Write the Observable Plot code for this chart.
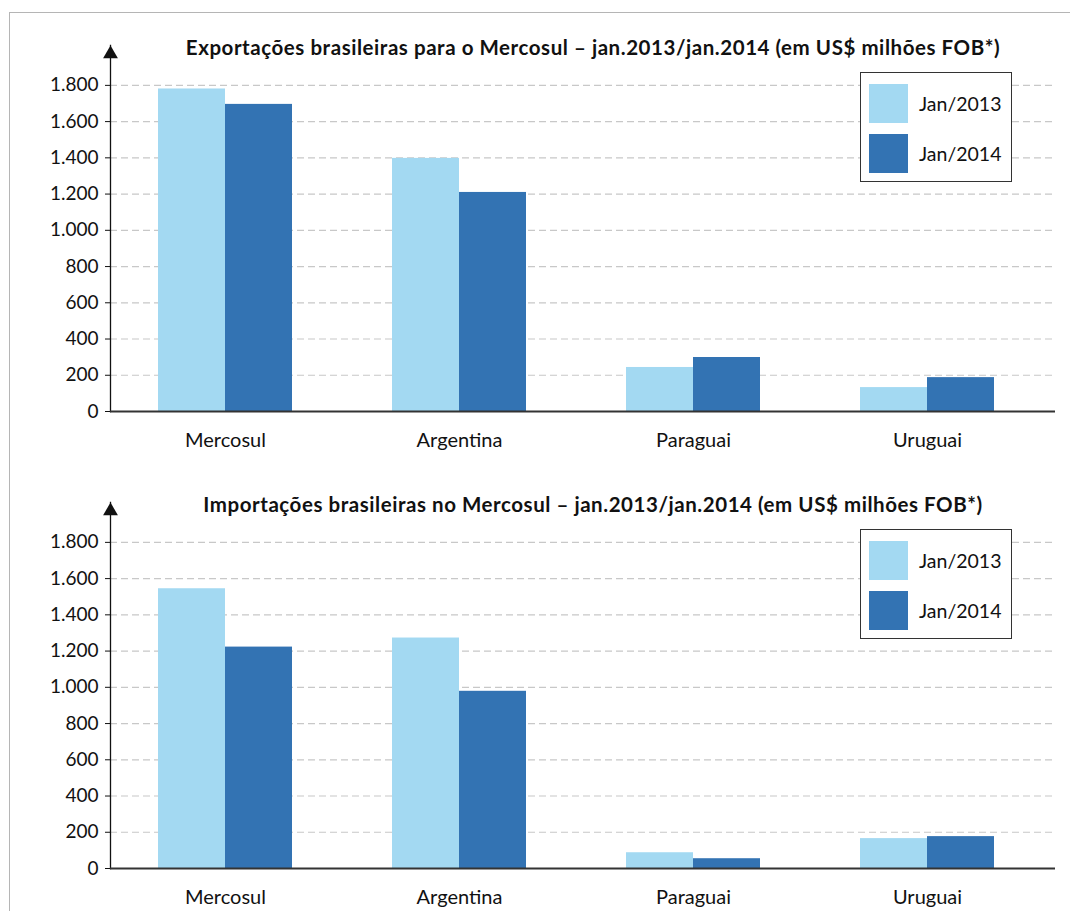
<!DOCTYPE html>
<html>
<head>
<meta charset="utf-8">
<script src="https://cdn.jsdelivr.net/npm/d3@7"></script>
<script src="https://cdn.jsdelivr.net/npm/@observablehq/plot@0.6"></script>
<style>
  body { margin: 0; background: #fff; font-family: Lato, sans-serif; color: #111; }
  #page { position: relative; width: 1070px; height: 911px; overflow: hidden; background: #fff; }
  #border { position: absolute; left: 9px; top: 12px; width: 1200px; height: 1200px; border: 1.5px solid #b5b5b5; box-sizing: border-box; }
  .chart { position: absolute; left: 0; width: 1070px; }
  .title { position: absolute; left: 0; width: 1186px; text-align: center; font-family: Lato, sans-serif; font-weight: bold; font-size: 20.5px; letter-spacing: 0.55px; top: 34px; white-space: nowrap; line-height: 26px; }
  .legend { position: absolute; left: 860px; top: 72px; width: 152px; height: 110px; border: 1.5px solid #333; box-sizing: border-box; background: #fff; }
  .item { position: absolute; left: 8px; height: 39px; display: flex; align-items: center; font-size: 19.5px; }
  .sw { width: 39px; height: 39px; margin-right: 11px; }
</style>
</head>
<body>
<div id="page">
  <div id="border"></div>
  <div id="top" class="chart" style="top:0px"></div>
  <div id="bottom" class="chart" style="top:457px"></div>
</div>
<script>
const categories = ["Mercosul", "Argentina", "Paraguai", "Uruguai"];
const seriesLabels = ["Jan/2013", "Jan/2014"];
const seriesColors = ["#a3d9f2", "#3373b3"];

const export2013 = [1780, 1397, 243, 132];
const export2014 = [1695, 1209, 298, 187];
const import2013 = [1544, 1272, 87, 165];
const import2014 = [1222, 978, 54, 176];

const yTicks = [0, 200, 400, 600, 800, 1000, 1200, 1400, 1600, 1800];
const yMax = 2020;

const titles = [
  "Exportações brasileiras para o Mercosul – jan.2013/jan.2014 (em US$ milhões FOB*)",
  "Importações brasileiras no Mercosul – jan.2013/jan.2014 (em US$ milhões FOB*)"
];

const fmt = d3.formatLocale({decimal: ",", thousands: ".", grouping: [3], currency: ["R$", ""]}).format(",");

function rows(values) {
  return categories.map((c, i) => ({country: c, value: values[i]}));
}

function makeChart(containerId, title, v2013, v2014) {
  const halfBand = 67;
  const chart = Plot.plot({
    width: 1070,
    height: 451,
    marginLeft: 110,
    marginRight: 15,
    marginTop: 45,
    marginBottom: 40,
    style: {fontFamily: "Lato, sans-serif", fontSize: "19px", color: "#111", background: "transparent"},
    x: {type: "band", domain: categories, paddingInner: 0.4274, paddingOuter: 0.2325, align: 0.44},
    y: {domain: [0, yMax]},
    marks: [
      Plot.gridY(yTicks, {stroke: "#c8c8c8", strokeOpacity: 1, strokeDasharray: "7,4", strokeWidth: 1.2}),
      Plot.barY(rows(v2013), {x: "country", y: "value", fill: seriesColors[0], insetRight: halfBand}),
      Plot.barY(rows(v2014), {x: "country", y: "value", fill: seriesColors[1], insetLeft: halfBand}),
      Plot.axisY({ticks: yTicks, tickSize: 5, tickPadding: 7, tickFormat: fmt, label: null, fontSize: 19, stroke: "#111"}),
      Plot.axisX({tickSize: 0, tickPadding: 21, label: null, fontSize: 20}),
      Plot.frame({anchor: "left", stroke: "#111", strokeWidth: 1.3}),
      Plot.ruleY([0], {stroke: "#333", strokeWidth: 1.8}),
      Plot.dot([0], {frameAnchor: "top-left", symbol: "triangle", r: 5.5, fill: "#111", stroke: null, dy: 8.5})
    ]
  });
  const el = document.getElementById(containerId);
  el.appendChild(chart);
  const t = document.createElement("div");
  t.className = "title";
  t.textContent = title;
  el.appendChild(t);
  const lg = document.createElement("div");
  lg.className = "legend";
  seriesLabels.forEach((s, i) => {
    const it = document.createElement("div");
    it.className = "item";
    it.style.top = (11 + i * 50) + "px";
    const sw = document.createElement("div");
    sw.className = "sw";
    sw.style.background = seriesColors[i];
    it.appendChild(sw);
    const tx = document.createElement("span");
    tx.textContent = s;
    it.appendChild(tx);
    lg.appendChild(it);
  });
  el.appendChild(lg);
}

makeChart("top", titles[0], export2013, export2014);
makeChart("bottom", titles[1], import2013, import2014);
</script>
</body>
</html>
